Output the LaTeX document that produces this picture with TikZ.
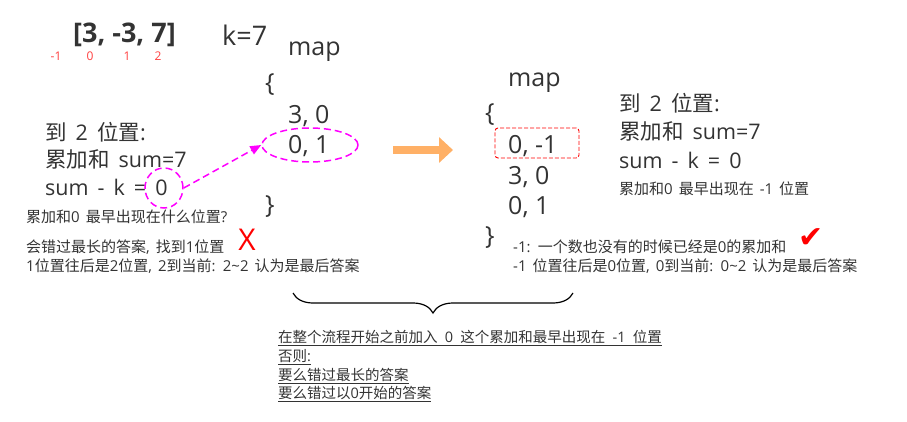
\documentclass[tikz,border=0pt]{standalone}
\usepackage{fontspec}
\setmainfont{Open Sans}
\newfontfamily\cjk{Noto Sans CJK SC}
\newfontfamily\symfont{DejaVu Sans}
\newcommand\zh[1]{{\cjk #1}}
\newcommand\wsp[1]{\spaceskip=#1em\relax}
\usetikzlibrary{arrows.meta,shapes.geometric,decorations.pathreplacing}
\definecolor{txt}{HTML}{333333}
\definecolor{pink}{HTML}{FF00FF}
\definecolor{idxred}{HTML}{FF4040}
\definecolor{orng}{HTML}{FFB066}

\begin{document}
\begin{tikzpicture}[x=1pt,y=-1pt,>=Triangle,
  txt/.style={anchor=west,inner sep=0,text=txt},
  big/.style={txt,font=\fontsize{21.5}{25}\selectfont\wsp{0.42}},
  mapf/.style={txt,font=\fontsize{25}{28}\selectfont},
  small/.style={txt,font=\fontsize{15}{17}\selectfont\wsp{0.4}},
  note/.style={txt,font=\fontsize{14.5}{17}\selectfont\wsp{0.5}},
  idx/.style={inner sep=0,text=idxred,font=\fontsize{12}{14}\selectfont},
  ring/.style={ellipse,draw=pink,line width=1.5pt,dash pattern=on 7pt off 4pt,inner sep=0}]
\useasboundingbox (0,0) rectangle (907,422);

% array and indices
\node[txt,font=\fontsize{27}{30}\selectfont\bfseries] (arr) at (73,35) {[3, -3, 7]};
\node[txt,font=\fontsize{27}{30}\selectfont] (k) at (222,35) {k=7};
\node[idx] at (56,56) {-1};
\node[idx] at (90,56) {0};
\node[idx] at (127,56) {1};
\node[idx] at (158,56) {2};

% left map
\node[mapf] (mapl) at (288,52) {map};
\node[mapf] at (265,85) {\{};
\node[mapf] at (288,116) {3, 0};
\node[mapf] at (288,146) {0, 1};
\node[mapf] at (265,207) {\}};
\node[ring,minimum width=96pt,minimum height=34pt] (zo) at (310,145) {};

% left text
\node[big] at (45,132) {\zh{到} 2 \zh{位置}:};
\node[big] at (45,159) {\zh{累加和} sum=7};
\node[big] (sk) at (45,187) {sum - k = 0};
\node[ring,minimum width=38pt,minimum height=40pt] (zero) at (164,188) {};
\draw[pink,line width=1.5pt,dash pattern=on 7pt off 4pt,-{Triangle[length=11pt,width=9pt]}] (zero.east) -- (zo.west);

\node[small] at (26,217) {\zh{累加和}0 \zh{最早出现在什么位置}?};
\node[small] at (26,247) {\zh{会错过最长的答案}, \zh{找到}1\zh{位置}};
\node[small] at (26,266) {1\zh{位置往后是}2\zh{位置}, 2\zh{到当前}: 2\char`\~2 \zh{认为是最后答案}};
\node[inner sep=0,text=red,font=\fontsize{30}{32}\selectfont] at (247,240) {X};

% orange arrow
\coordinate (a1) at (393,150);
\coordinate (a2) at (453,150);
\draw[orng,line width=8pt,-{Triangle[length=14pt,width=25pt]}] (a1) -- (a2);

% right map
\node[mapf] (mapr) at (508,83) {map};
\node[mapf] at (485,115) {\{};
\node[draw=red,line width=0.9pt,dash pattern=on 4pt off 2pt,rounded corners=3pt,minimum width=84pt,minimum height=30pt] (box) at (537,143) {};
\node[mapf] at (508,146) {0, -1};
\node[mapf] at (508,177) {3, 0};
\node[mapf] at (508,207) {0, 1};
\node[mapf] at (485,238) {\}};

% right text
\node[big] at (619,103) {\zh{到} 2 \zh{位置}:};
\node[big] at (619,131) {\zh{累加和} sum=7};
\node[big] at (619,160) {sum - k = 0};
\node[small] at (619,189) {\zh{累加和}0 \zh{最早出现在} -1 \zh{位置}};
\node[small] at (513,247) {-1: \zh{一个数也没有的时候已经是}0\zh{的累加和}};
\node[small] at (513,266) {-1 \zh{位置往后是}0\zh{位置}, 0\zh{到当前}: 0\char`\~2 \zh{认为是最后答案}};
\node[inner sep=0,text=red,font=\symfont\fontsize{30}{32}\selectfont] at (811,238) {✔};

% brace and note
\coordinate (b1) at (293,293);
\coordinate (b2) at (573,293);
\draw[txt,line width=1.2pt,decorate,decoration={brace,mirror,amplitude=20pt}] (b1) -- (b2);
\node[note] at (278,338) {\underline{\zh{在整个流程开始之前加入} 0 \zh{这个累加和最早出现在} -1 \zh{位置}}};
\node[note] at (278,357) {\underline{\zh{否则}:}};
\node[note] at (278,376) {\underline{\zh{要么错过最长的答案}}};
\node[note] at (278,394) {\underline{\zh{要么错过以}0\zh{开始的答案}}};
\end{tikzpicture}
\end{document}
